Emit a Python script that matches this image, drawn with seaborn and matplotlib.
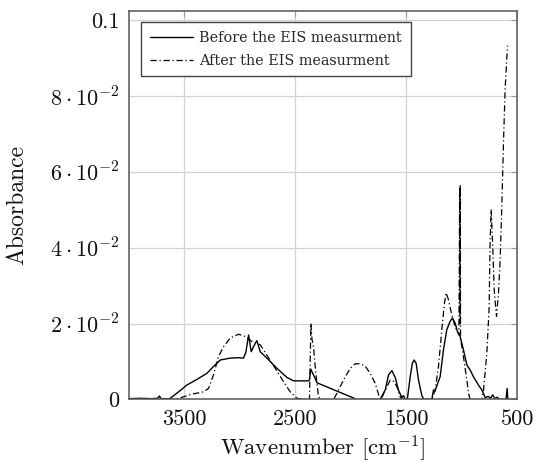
import matplotlib
matplotlib.use("Agg")
import matplotlib.pyplot as plt
import seaborn as sns
import pandas as pd

# ---------------- data ----------------
before_wn = [4000, 3900, 3800, 3740, 3725, 3710, 3640, 3627, 3552, 3477, 3386, 3296,
             3237, 3176, 3086, 3011, 2966, 2945, 2921, 2897, 2875, 2846, 2816, 2756,
             2665, 2575, 2516, 2381, 2372, 2360, 2348, 2336, 2325, 2305, 2125, 1944,
             1735, 1689, 1659, 1629, 1599, 1570, 1539, 1525, 1510, 1490, 1464, 1445,
             1428, 1410, 1389, 1359, 1340, 1269, 1254, 1240, 1225, 1194, 1164, 1134,
             1104, 1083, 1059, 1038, 1014, 984, 953, 924, 894, 849, 818, 788, 760,
             740, 720, 700, 680, 660, 600, 590, 584, 540]
before_abs = [0.0002, 0.0003, 0.0002, 0.0003, 0.0009, 0.0002, 0.0002, 0.0003, 0.0020,
              0.0038, 0.0053, 0.0069, 0.0087, 0.0104, 0.0109, 0.0110, 0.0109, 0.0125,
              0.0170, 0.0126, 0.0140, 0.0155, 0.0126, 0.0109, 0.0082, 0.0058, 0.0049,
              0.0049, 0.0052, 0.0080, 0.0072, 0.0065, 0.0058, 0.0044, 0.0022, 0.0000,
              0.0000, 0.0025, 0.0065, 0.0076, 0.0058, 0.0025, 0.0005, 0.0010, 0.0002,
              0.0000, 0.0060, 0.0095, 0.0104, 0.0095, 0.0051, 0.0010, 0.0000, 0.0000,
              0.0025, 0.0022, 0.0035, 0.0060, 0.0131, 0.0184, 0.0206, 0.0215, 0.0201,
              0.0179, 0.0166, 0.0131, 0.0091, 0.0078, 0.0060, 0.0038, 0.0025, 0.0005,
              0.0008, 0.0003, 0.0012, 0.0002, 0.0006, 0.0000, 0.0000, 0.0029, 0.0000,
              0.0000]

after_wn = [4000, 3582, 3507, 3431, 3327, 3282, 3237, 3192, 3147, 3086, 3011, 2951,
            2891, 2816, 2756, 2681, 2606, 2546, 2485, 2400, 2372, 2359, 2350, 2336,
            2318, 2291, 2270, 2155, 2125, 2065, 2005, 1960, 1915, 1870, 1825, 1780,
            1744, 1725, 1700, 1644, 1620, 1584, 1555, 1530, 1269, 1239, 1209, 1179,
            1155, 1140, 1119, 1089, 1059, 1038, 1025, 1018, 1015, 1013, 1010, 984,
            953, 938, 924, 818, 803, 773, 752, 745, 734, 719, 707, 686, 668, 653,
            638, 623, 608, 587]
after_abs = [0.0000, 0.0000, 0.0007, 0.0014, 0.0020, 0.0029, 0.0065, 0.0113, 0.0139,
             0.0162, 0.0172, 0.0166, 0.0153, 0.0144, 0.0117, 0.0082, 0.0047, 0.0020,
             0.0003, 0.0000, 0.0000, 0.0201, 0.0160, 0.0139, 0.0079, 0.0007, 0.0000,
             0.0000, 0.0016, 0.0051, 0.0082, 0.0094, 0.0094, 0.0088, 0.0069, 0.0043,
             0.0008, 0.0000, 0.0018, 0.0051, 0.0050, 0.0034, 0.0007, 0.0000, 0.0000,
             0.0025, 0.0087, 0.0184, 0.0254, 0.0281, 0.0263, 0.0223, 0.0192, 0.0179,
             0.0170, 0.0560, 0.0200, 0.0567, 0.0160, 0.0113, 0.0051, 0.0016, 0.0000,
             0.0000, 0.0025, 0.0122, 0.0245, 0.0400, 0.0501, 0.0395, 0.0289, 0.0219,
             0.0281, 0.0369, 0.0510, 0.0678, 0.0819, 0.0933]

series_labels = ["Before the EIS measurment", "After the EIS measurment"]
x_ticks = [3500, 2500, 1500, 500]
x_tick_labels = ["3500", "2500", "1500", "500"]
y_ticks = [0, 0.02, 0.04, 0.06, 0.08, 0.1]
y_tick_labels = ["0", r"$2\cdot10^{-2}$", r"$4\cdot10^{-2}$", r"$6\cdot10^{-2}$",
                 r"$8\cdot10^{-2}$", "0.1"]
x_label = r"Wavenumber [cm$^{-1}$]"
y_label = "Absorbance"

# ---------------- style ----------------
sns.set_style("white")
plt.rcParams["font.family"] = ["cmr10", "DejaVu Serif"]
plt.rcParams["mathtext.fontset"] = "cm"
plt.rcParams["axes.formatter.use_mathtext"] = True

df_before = pd.DataFrame({"wn": before_wn, "abs": before_abs})
df_after = pd.DataFrame({"wn": after_wn, "abs": after_abs})

fig = plt.figure(figsize=(5.37, 4.65), dpi=100)
ax = fig.add_axes([0.240, 0.141, 0.723, 0.835])

sns.lineplot(data=df_before, x="wn", y="abs", ax=ax, color="black", lw=1.0,
             linestyle="-", label=series_labels[0], sort=False, estimator=None)
sns.lineplot(data=df_after, x="wn", y="abs", ax=ax, color="black", lw=0.9,
             linestyle=(0, (5, 2.2, 1, 2.2)), label=series_labels[1], sort=False,
             estimator=None)

ax.set_xlim(4000, 500)
ax.set_ylim(0, 0.1024)
ax.set_xticks(x_ticks)
ax.set_xticklabels(x_tick_labels)
ax.set_yticks(y_ticks)
ax.set_yticklabels(y_tick_labels)
ax.grid(True, color="#d2d2d2", lw=0.9)
ax.set_axisbelow(True)
for s in ax.spines.values():
    s.set_color("#555555")
    s.set_linewidth(1.1)
ax.tick_params(direction="in", length=4, width=0.8, color="#999999",
               top=True, right=True, labelsize=16, pad=7, labelcolor="#111111")

ax.set_xlabel(x_label, fontsize=16.5, color="#111111", va="bottom")
ax.set_ylabel(y_label, fontsize=17, color="#111111")
ax.xaxis.set_label_coords(0.5, -0.165)
ax.yaxis.set_label_coords(-0.260, 0.5)

leg = ax.legend(loc="upper left", bbox_to_anchor=(0.031, 0.971), frameon=True,
                fancybox=False, edgecolor="#444444", framealpha=1,
                prop={"family": "DejaVu Serif", "size": 10.4},
                handlelength=3.0, handletextpad=0.45, borderpad=0.6,
                labelspacing=0.6, borderaxespad=0)
leg.get_frame().set_linewidth(1.0)

fig.savefig("out.png", dpi=100)
